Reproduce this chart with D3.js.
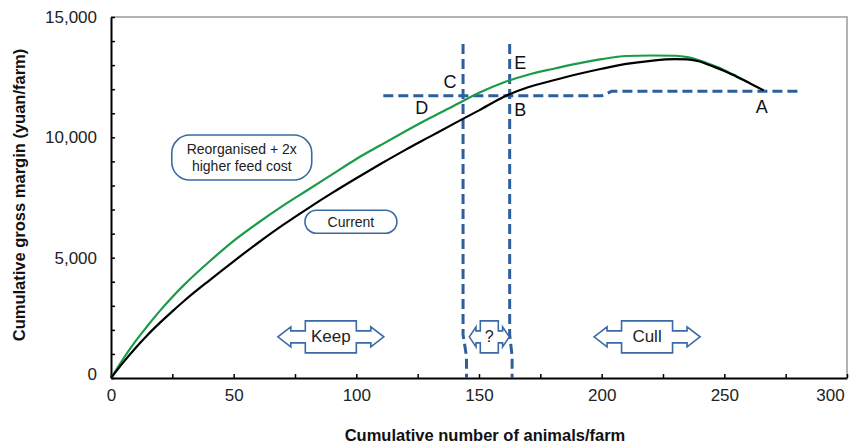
<!DOCTYPE html>
<html><head><meta charset="utf-8">
<script src="https://cdn.jsdelivr.net/npm/d3@7"></script>
<style>
html,body{margin:0;padding:0;background:#fff;}
text{font-family:"Liberation Sans",Arial,sans-serif;}
</style></head>
<body>
<svg id="chart" width="856" height="445"></svg>
<script>
// ---------- data ----------
const currentX = [0,5,10,15,20,25,30,40,50,60,70,80,90,100,110,120,130,140,150,160,170,180,190,200,210,220,230,235,240,245,250,255,260,266];
const currentY = [0,650,1250,1800,2300,2770,3220,4050,4850,5620,6350,7030,7680,8300,8900,9480,10030,10580,11120,11680,12080,12360,12620,12850,13050,13180,13250,13240,13150,12960,12760,12520,12270,11950];
const reorgX = [0,5,10,15,20,25,30,40,50,60,70,80,90,100,110,120,130,140,150,160,170,180,190,200,210,220,230,235,240,245,250,255,260];
const reorgY = [0,800,1530,2180,2800,3370,3890,4830,5700,6450,7150,7800,8450,9100,9680,10250,10800,11320,11850,12280,12600,12840,13060,13250,13380,13400,13390,13330,13190,13000,12790,12540,12280];
const xTicks = [0,25,50,75,100,125,150,175,200,225,250,275,300];
const xTickLabels = ["0","","50","","100","","150","","200","","250","","300"];
const yTicks = d3.range(0,15001,1000);
const yLabelValues = [0,5000,10000,15000];
// annotation guide lines (data units)
const hLine = [[111,11730],[200,11730],[204,11910],[280,11910]];
const vLineLeft = [[143.5,13880],[143.5,1800],[144.9,900],[144.9,0]];
const vLineRight = [[162.5,13880],[162.5,1800],[163.5,900],[163.5,0]];
const pointLabels = [
  {t:"C", x:138.2, y:12300},
  {t:"D", x:126.7, y:11200},
  {t:"E", x:166.8, y:13080},
  {t:"B", x:166.8, y:11130},
  {t:"A", x:265.3, y:11270}
];
const arrowBoxes = [
  {t:"Keep", x:89.6, y:1710, big:true},
  {t:"?", x:154.2, y:1710, big:false},
  {t:"Cull", x:218.5, y:1710, big:true}
];
const callouts = [
  {lines:["Reorganised + 2x","higher feed cost"], x:53.3, y:9160, w:140, h:45},
  {lines:["Current"], x:97.8, y:6490, w:92, h:23}
];

// ---------- drawing ----------
const svg = d3.select("#chart");
const x = d3.scaleLinear().domain([0,300]).range([111,847]);
const y = d3.scaleLinear().domain([0,15000]).range([378,17]);
const blue = "#2f5f9a";

// plot frame (top/right gray)
svg.append("path").attr("d",`M${x(0)},${y(15000)}H${x(300)}V${y(0)}`)
  .attr("fill","none").attr("stroke","#9a9a9a").attr("stroke-width",1.5);

// axes
const xAxis = d3.axisBottom(x).tickValues(xTicks).tickSize(-4).tickSizeOuter(0)
  .tickPadding(11).tickFormat((d,i)=>xTickLabels[i]);
const gx = svg.append("g").attr("transform",`translate(0,${y(0)})`).call(xAxis);
const yAxis = d3.axisLeft(y).tickValues(yTicks).tickSize(-4).tickSizeOuter(0)
  .tickPadding(14).tickFormat(d=>yLabelValues.includes(d)?d3.format(",")(d):"");
const gy = svg.append("g").attr("transform",`translate(${x(0)},0)`).call(yAxis);
[gx,gy].forEach(g=>{
  g.select(".domain").attr("stroke","#000").attr("stroke-width",2);
  g.selectAll(".tick line").attr("stroke","#000").attr("stroke-width",1.5);
  g.selectAll(".tick text").attr("font-size",17).attr("fill","#222")
   .attr("font-family","'Liberation Sans',Arial,sans-serif");
});
// keep last x label inside the canvas, lift the y "0" label a little
gx.selectAll(".tick text").filter(d=>d===300).attr("dx",-17);
gy.selectAll(".tick text").filter(d=>d===0).attr("dy","0.1em");

// axis titles
svg.append("text").attr("x",485).attr("y",441).attr("text-anchor","middle")
  .attr("font-size",16.5).attr("font-weight","bold").attr("fill","#111")
  .text("Cumulative number of animals/farm");
svg.append("text").attr("transform","translate(25,195) rotate(-90)").attr("text-anchor","middle")
  .attr("font-size",16.5).attr("font-weight","bold").attr("fill","#111")
  .text("Cumulative gross margin (yuan/farm)");

// dashed guide lines
const gl = d3.line().x(d=>x(d[0])).y(d=>y(d[1]));
[hLine,vLineLeft,vLineRight].forEach(l=>{
  svg.append("path").attr("d",gl(l)).attr("fill","none").attr("stroke",blue)
    .attr("stroke-width",3).attr("stroke-dasharray","10,5");
});

// curves
const line = d3.line().curve(d3.curveMonotoneX);
const reorgPts = reorgX.map((v,i)=>[x(v),y(reorgY[i])]);
const currPts = currentX.map((v,i)=>[x(v),y(currentY[i])]);
svg.append("path").attr("d",line(reorgPts)).attr("fill","none")
  .attr("stroke","#1a9b48").attr("stroke-width",2.2);
svg.append("path").attr("d",line(currPts)).attr("fill","none")
  .attr("stroke","#000").attr("stroke-width",2.2);

// point labels
pointLabels.forEach(p=>{
  svg.append("text").attr("x",x(p.x)).attr("y",y(p.y)).attr("text-anchor","middle")
    .attr("dominant-baseline","central").attr("font-size",18).attr("fill","#111").text(p.t);
});

// callouts
callouts.forEach(c=>{
  const cx=x(c.x), cy=y(c.y);
  svg.append("rect").attr("x",cx-c.w/2).attr("y",cy-c.h/2).attr("width",c.w).attr("height",c.h)
    .attr("rx",Math.min(18,c.h/2)).attr("fill","#fff").attr("stroke","#3a6aa6").attr("stroke-width",1.6);
  const n=c.lines.length;
  c.lines.forEach((t,i)=>{
    svg.append("text").attr("x",cx).attr("y",cy+(i-(n-1)/2)*17)
      .attr("text-anchor","middle").attr("dominant-baseline","central")
      .attr("font-size",14).attr("fill","#222").text(t);
  });
});

// double-arrow boxes
arrowBoxes.forEach(a=>{
  const cx=x(a.x), cy=y(a.y);
  const p = a.big ? {bw:25.5,bh:16,sh:6,hh:10,hb:40,tip:53} : {bw:9,bh:16,sh:6,hh:10,hb:13.3,tip:20};
  const pts=[[-p.tip,0],[-p.hb,-p.hh],[-p.hb,-p.sh],[-p.bw,-p.sh],[-p.bw,-p.bh],[p.bw,-p.bh],[p.bw,-p.sh],
    [p.hb,-p.sh],[p.hb,-p.hh],[p.tip,0],[p.hb,p.hh],[p.hb,p.sh],[p.bw,p.sh],[p.bw,p.bh],[-p.bw,p.bh],
    [-p.bw,p.sh],[-p.hb,p.sh],[-p.hb,p.hh]];
  svg.append("path").attr("d","M"+pts.map(q=>[cx+q[0],cy+q[1]].join(",")).join("L")+"Z")
    .attr("fill","#fff").attr("stroke","#3a6aa6").attr("stroke-width",1.6);
  svg.append("text").attr("x",cx).attr("y",cy).attr("text-anchor","middle")
    .attr("dominant-baseline","central").attr("font-size",a.big?17:16).attr("fill","#222").text(a.t);
});
</script>
</body></html>
